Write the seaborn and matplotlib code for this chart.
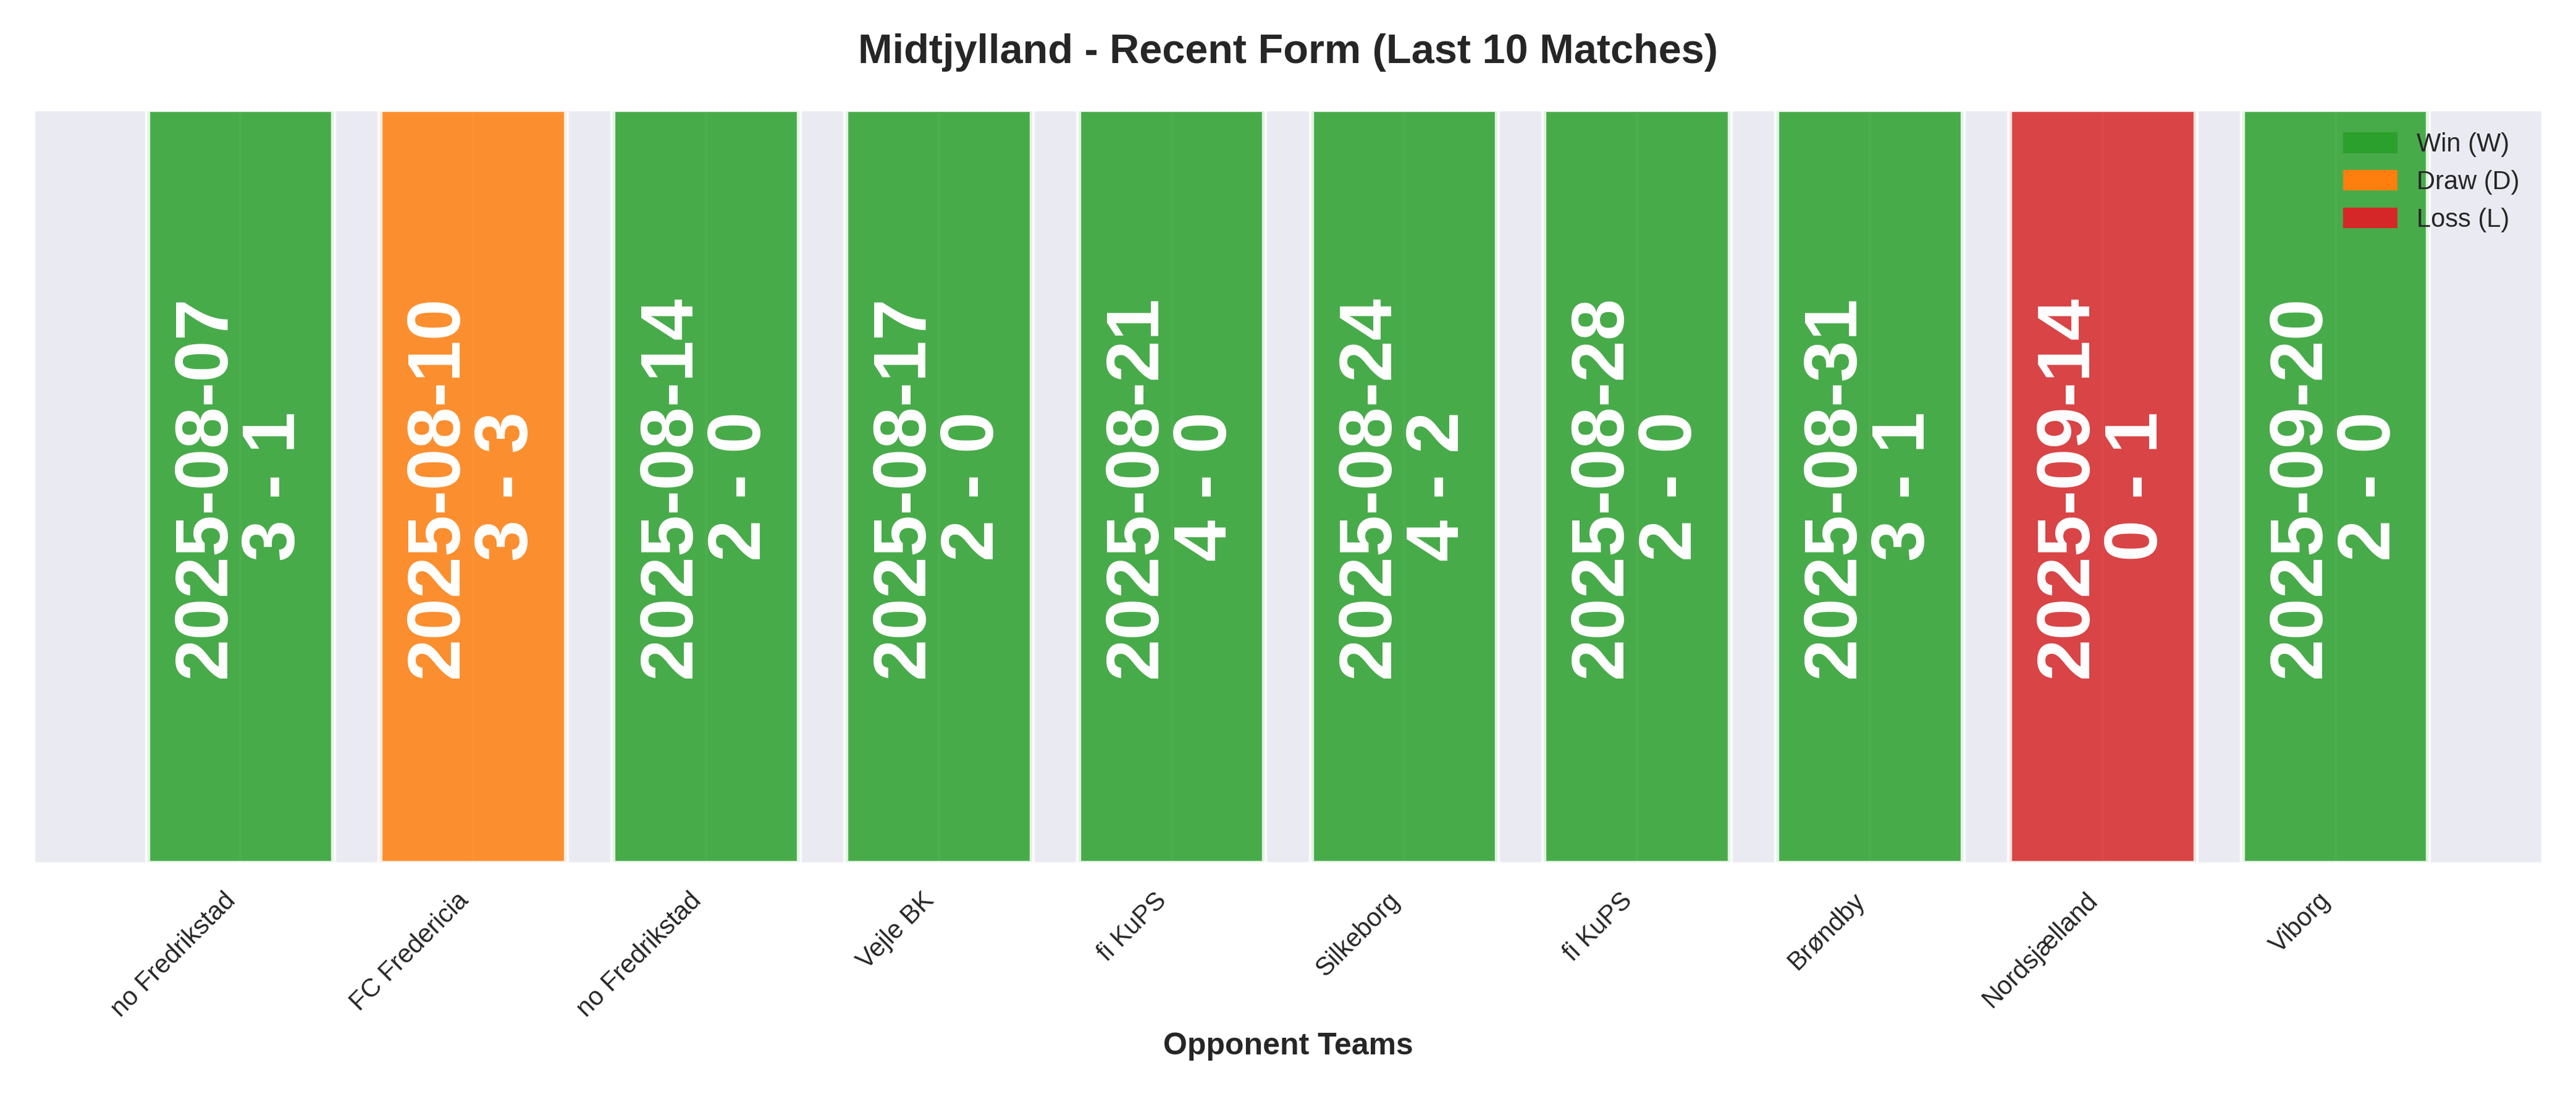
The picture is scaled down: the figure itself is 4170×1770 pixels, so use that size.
import matplotlib
matplotlib.use("Agg")
import matplotlib.pyplot as plt
import seaborn as sns
import pandas as pd
from matplotlib.patches import Patch

opponents = ["no Fredrikstad", "FC Fredericia", "no Fredrikstad", "Vejle BK", "fi KuPS",
             "Silkeborg", "fi KuPS", "Brøndby", "Nordsjælland", "Viborg"]
dates = ["2025-08-07", "2025-08-10", "2025-08-14", "2025-08-17", "2025-08-21",
         "2025-08-24", "2025-08-28", "2025-08-31", "2025-09-14", "2025-09-20"]
scores = ["3 - 1", "3 - 3", "2 - 0", "2 - 0", "4 - 0", "4 - 2", "2 - 0", "3 - 1", "0 - 1", "2 - 0"]
results = ["W", "D", "W", "W", "W", "W", "W", "W", "L", "W"]
colors = {"W": "#2ca02c", "D": "#ff7f0e", "L": "#d62728"}

sns.set_theme(style="darkgrid")
plt.rcParams['font.family'] = ['Liberation Sans', 'DejaVu Sans']
fig, ax = plt.subplots(figsize=(13.9, 5.9), dpi=300)
x = list(range(len(opponents)))
ax.bar(x, [1]*len(x), width=0.8, color=[colors[r] for r in results], alpha=0.85,
       edgecolor="white", linewidth=2)
for i in x:
    ax.text(i, 0.5, f"{dates[i]}\n{scores[i]}", rotation=90, ha="center", va="center",
            color="white", fontsize=29, fontweight="bold", linespacing=1.0)
ax.set_ylim(0, 1)
ax.set_yticks([])
ax.set_xticks(x)
ax.set_xticklabels(opponents, rotation=45, ha="right", fontsize=10)
ax.set_xlabel("Opponent Teams", fontsize=12, fontweight="bold")
ax.set_title("Midtjylland - Recent Form (Last 10 Matches)", fontsize=16, fontweight="bold", pad=18)
handles = [Patch(color=colors["W"], label="Win (W)"), Patch(color=colors["D"], label="Draw (D)"),
           Patch(color=colors["L"], label="Loss (L)")]
ax.legend(handles=handles, loc="upper right", fontsize=10, frameon=False)
fig.tight_layout()
fig.savefig("out.png", dpi=300)
